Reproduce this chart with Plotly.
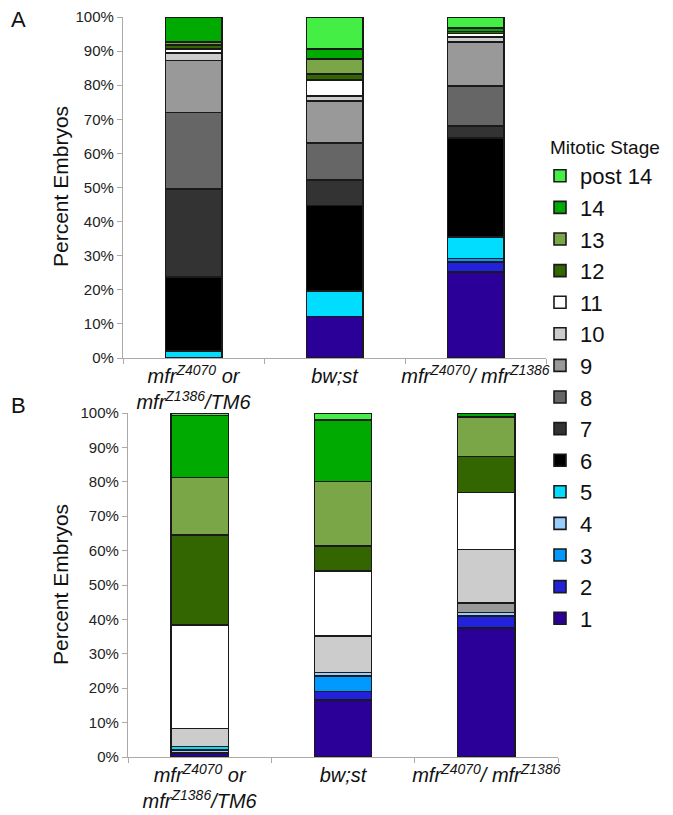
import plotly.graph_objects as go
from plotly.subplots import make_subplots

categories = [
    "<i>mfr<sup>Z4070</sup> or<br>mfr<sup>Z1386</sup>/TM6</i>",
    "<i>bw;st</i>",
    "<i>mfr<sup>Z4070</sup>/ mfr<sup>Z1386</sup></i>",
]
stages = ["1", "2", "3", "4", "5", "6", "7", "8", "9", "10", "11", "12", "13", "14", "post 14"]
colors = ["#2a0099", "#2222dd", "#0099ff", "#99ccff", "#00ddff", "#000000", "#333333",
          "#666666", "#999999", "#cccccc", "#ffffff", "#336600", "#7aa648", "#00aa00", "#44ee44"]

# Panel A values (% per stage, per genotype)
a_values = {
    "1":       [0.0, 12.2, 25.2],
    "2":       [0.0, 0.0, 3.0],
    "3":       [0.0, 0.0, 1.0],
    "4":       [0.0, 0.0, 0.0],
    "5":       [2.0, 7.5, 6.3],
    "6":       [21.7, 25.0, 29.1],
    "7":       [25.8, 7.5, 3.4],
    "8":       [22.5, 10.9, 11.8],
    "9":       [15.3, 12.2, 12.9],
    "10":      [2.1, 1.6, 1.5],
    "11":      [1.2, 4.6, 1.0],
    "12":      [1.2, 1.7, 0.6],
    "13":      [0.9, 4.5, 0.0],
    "14":      [7.3, 3.0, 1.0],
    "post 14": [0.0, 9.3, 3.2],
}
# Panel B values
b_values = {
    "1":       [1.2, 16.6, 37.5],
    "2":       [0.0, 2.4, 3.5],
    "3":       [0.0, 4.6, 0.0],
    "4":       [0.9, 1.0, 1.0],
    "5":       [0.9, 0.0, 0.0],
    "6":       [0.0, 0.0, 0.0],
    "7":       [0.0, 0.0, 0.0],
    "8":       [0.0, 0.0, 0.0],
    "9":       [0.0, 0.0, 2.7],
    "10":      [5.3, 10.6, 15.6],
    "11":      [30.1, 18.8, 16.6],
    "12":      [26.1, 7.3, 10.5],
    "13":      [16.8, 18.8, 11.4],
    "14":      [18.0, 17.9, 1.2],
    "post 14": [0.7, 2.0, 0.0],
}
y_ticks = list(range(0, 101, 10))
y_ticklabels = [f"{t}%" for t in y_ticks]

fig = make_subplots(rows=2, cols=1)

for i, s in enumerate(stages):
    fig.add_trace(go.Bar(
        x=categories, y=a_values[s], name=s, marker_color=colors[i],
        marker_line_color="#1a1a1a", marker_line_width=1.6,
        legendgroup=s, legendrank=100 - i, showlegend=True, width=0.4,
    ), row=1, col=1)
for i, s in enumerate(stages):
    fig.add_trace(go.Bar(
        x=categories, y=b_values[s], name=s, marker_color=colors[i],
        marker_line_color="#1a1a1a", marker_line_width=1.6,
        legendgroup=s, legendrank=100 - i, showlegend=False, width=0.4,
    ), row=2, col=1)

# page body has an 8px margin: figure is drawn 8px right/down of the window origin
OFF = 8
W, H = 673 - OFF, 815 - OFF


def px(x):
    return (x - OFF) / W


def py(y):
    return 1 - (y - OFF) / H


FONT = "Liberation Sans, Arial, sans-serif"
fig.update_layout(
    width=W, height=H, barmode="stack", plot_bgcolor="white", paper_bgcolor="white",
    margin=dict(l=0, r=0, t=0, b=0, autoexpand=False),
    font=dict(family=FONT, color="#111"),
    legend=dict(
        font=dict(size=22, family=FONT, color="#111"), traceorder="grouped", tracegroupgap=0,
        x=px(540), y=py(155), xanchor="left", yanchor="top",
        bgcolor="rgba(0,0,0,0)", itemwidth=30,
    ),
)
fig.update_xaxes(showline=True, linecolor="#aaaaaa", linewidth=1.2, ticks="outside",
                 tickson="boundaries", tickcolor="#aaaaaa", ticklen=5, showgrid=False,
                 automargin=False, tickangle=0,
                 tickfont=dict(family=FONT, size=20, color="#111"))
fig.update_yaxes(range=[0, 100], tickvals=y_ticks, ticktext=y_ticklabels, showline=True,
                 linecolor="#aaaaaa", linewidth=1.2, ticks="outside", tickcolor="#aaaaaa",
                 ticklen=5, showgrid=False, automargin=False,
                 tickfont=dict(family=FONT, size=15, color="#222"))

fig.update_layout(
    xaxis=dict(domain=[px(123), px(546)], anchor="y"),
    yaxis=dict(domain=[py(358), py(17)], anchor="x"),
    xaxis2=dict(domain=[px(128), px(558)], anchor="y2"),
    yaxis2=dict(domain=[py(757), py(413)], anchor="x2"),
)


def label(text, x, y, size, angle=0):
    fig.add_annotation(text=text, x=px(x), y=py(y), xref="paper", yref="paper",
                       xanchor="center", yanchor="middle", textangle=angle,
                       showarrow=False, font=dict(family=FONT, size=size, color="#111"))


label("Percent Embryos", 60, 187, 21, -90)
label("Percent Embryos", 60, 585, 21, -90)
label("Mitotic Stage", 605, 148, 19)
label("A", 19, 19, 22)
label("B", 19, 405, 22)

fig.write_html("out.html")
